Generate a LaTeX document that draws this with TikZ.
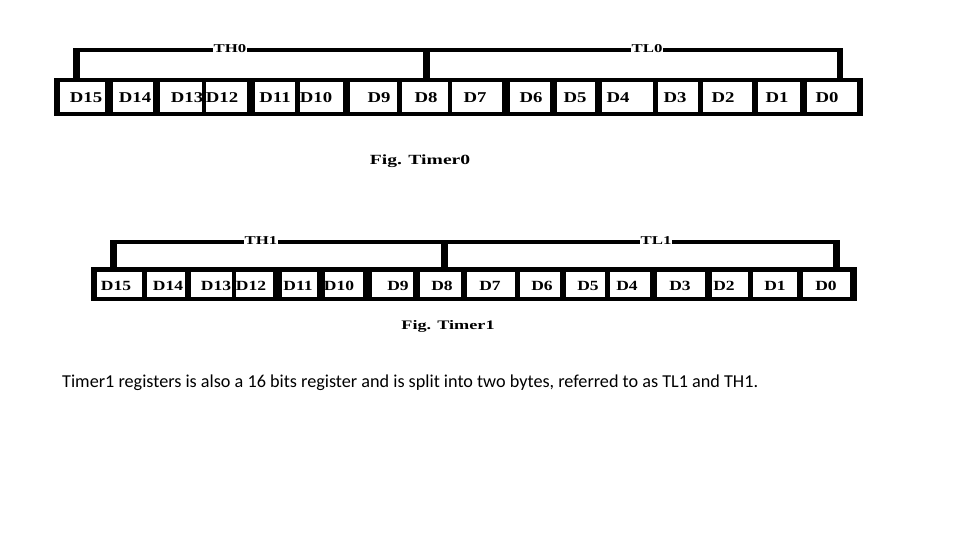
\documentclass[tikz,border=0pt]{standalone}
\usepackage{fontspec}
\setmainfont{Liberation Serif}
\newfontfamily\capfont{Carlito}
\tikzset{
  regbar/.style={fill=black, inner sep=0, draw=none},
  cellbox/.style={fill=white, inner sep=0, draw=none},
  bitlbl/.style={inner sep=0, font=\fontsize{15}{15}\selectfont\bfseries},
  bytelbl/.style={inner sep=1pt, fill=white, font=\fontsize{12}{12}\selectfont\bfseries},
  figlbl/.style={inner sep=0, font=\fontsize{14}{14}\selectfont\bfseries},
  brackh/.style={line width=4pt},
  brackv/.style={line width=6.5pt},
}
\newcommand{\sx}[1]{\scalebox{1.25}[1]{#1}}
\newcommand{\sxx}[1]{\scalebox{1.4}[1]{#1}}
\begin{document}
\begin{tikzpicture}[x=1pt,y=-1pt]
\useasboundingbox (0,0) rectangle (960,540);
% ---------- Timer0 ----------
\node[regbar, minimum width=809, minimum height=38] (bar0) at (458.5,97) {};
\foreach \l/\r/\n in {60/105/15,113/153/14,160/202/13,206/247/12,255/295/11,300/343/10,350/397/9,402/448/8,452/502/7,510/550/6,557/595/5,602/653/4,658/698/3,703/752/2,758/800/1,807/857/0}
  \node[cellbox, minimum width=\r-\l, minimum height=30] (a\n) at ({(\l+\r)/2},97) {};
\foreach \x/\n in {86/15,135/14,187/13,222/12,275/11,316/10,379/9,426/8,475/7,531/6,575/5,618/4,675/3,723/2,777/1,827/0}
  \node[bitlbl] (ta\n) at (\x,98) {\sx{D\n}};
\coordinate (b0l) at (76.5,50);
\coordinate (b0m) at (426.5,50);
\coordinate (b0r) at (840,50);
\draw[brackh] ([xshift=-3.25pt]b0l) -- ([xshift=3.25pt]b0r);
\draw[brackv] ([yshift=-2pt]b0l) -- (b0l |- bar0.north);
\draw[brackv] ([yshift=-2pt]b0m) -- (b0m |- bar0.north);
\draw[brackv] ([yshift=-2pt]b0r) -- (b0r |- bar0.north);
\node[bytelbl] (th0) at (230,49) {\sxx{TH0}};
\node[bytelbl] (tl0) at (647,49) {\sxx{TL0}};
\node[figlbl] (fig0) at (420,161) {\sxx{Fig. Timer0}};
% ---------- Timer1 ----------
\node[regbar, minimum width=766, minimum height=34] (bar1) at (474,284) {};
\foreach \l/\r/\n in {97/142/15,147/185/14,191/232/13,236/273/12,282/317/11,325/363/10,372/413/9,420/461/8,467/515/7,520/560/6,566/605/5,610/650/4,657/705/3,712/748/2,753/797/1,803/850/0}
  \node[cellbox, minimum width=\r-\l, minimum height=25] (b\n) at ({(\l+\r)/2},284.5) {};
\foreach \x/\n in {116/15,168/14,216/13,251/12,298/11,339/10,398/9,442/8,490/7,542/6,588/5,627/4,680/3,724/2,775/1,826/0}
  \node[bitlbl, font=\fontsize{14}{14}\selectfont\bfseries] (tb\n) at (\x,285.5) {\sx{D\n}};
\coordinate (b1l) at (113.5,242);
\coordinate (b1m) at (444.5,242);
\coordinate (b1r) at (836.5,242);
\draw[brackh] ([xshift=-3.25pt]b1l) -- ([xshift=3.25pt]b1r);
\draw[brackv] ([yshift=-2pt]b1l) -- (b1l |- bar1.north);
\draw[brackv] ([yshift=-2pt]b1m) -- (b1m |- bar1.north);
\draw[brackv] ([yshift=-2pt]b1r) -- (b1r |- bar1.north);
\node[bytelbl] (th1) at (261,241) {\sxx{TH1}};
\node[bytelbl] (tl1) at (656,241) {\sxx{TL1}};
\node[figlbl, font=\fontsize{13}{13}\selectfont\bfseries] (fig1) at (448,326) {\sxx{Fig. Timer1}};
% ---------- caption ----------
\node[anchor=base west, inner sep=0, font=\capfont\fontsize{18.2}{18.2}\selectfont] (cap) at (62,387)
  {Timer1 registers is also a 16 bits register and is split into two bytes, referred to as TL1 and TH1.};
\end{tikzpicture}
\end{document}
